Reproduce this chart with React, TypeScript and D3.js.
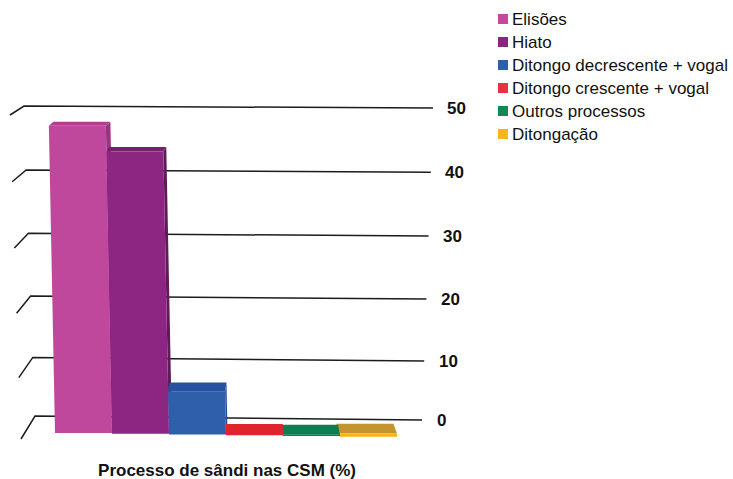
import React, { useEffect, useRef } from "react";
import * as d3 from "d3";

// data (percent)
const categories = [
  "Elisões",
  "Hiato",
  "Ditongo decrescente + vogal",
  "Ditongo crescente + vogal",
  "Outros processos",
  "Ditongação",
];
const values = [48.0, 44.1, 6.7, 0.2, 0.2, 0.5];
const frontColors = ["#c0489c", "#8c2682", "#2f5eab", "#e0242e", "#0f7d52", "#f5b418"];
const topColors = ["#b23d91", "#752169", "#2651a0", "#e0242e", "#0f7d52", "#c4952e"];
const sideColors = ["#983482", "#5f1b58", "#224a92", "#b81d26", "#0b6242", "#a47a20"];
const legendColors = ["#c2499e", "#8b2583", "#2e5fac", "#e8333f", "#0e8a58", "#f8b51c"];
const tickValues = [0, 10, 20, 30, 40, 50];
const chartTitle = "Processo de sândi nas CSM (%)";

const W = 733;
const H = 479;
const FONT = "'Liberation Sans', Arial, sans-serif";

export default function App() {
  const ref = useRef<HTMLDivElement>(null);

  useEffect(() => {
    if (!ref.current) return;
    ref.current.innerHTML = "";

    const svg = d3
      .select(ref.current)
      .append("svg")
      .attr("width", W)
      .attr("height", H)
      .style("position", "absolute")
      .style("left", 0)
      .style("top", 0)
      .style("font-family", FONT);

    svg.append("rect").attr("width", W).attr("height", H).attr("fill", "#fff");

    // back wall (slightly in perspective)
    const yBack = d3.scalePow().exponent(1.035).domain([0, 50]).range([416, 106]);
    const grid = svg.append("g").attr("stroke", "#1c1c1c").attr("fill", "none");

    tickValues.forEach((v) => {
      const cx = 35 - 0.22 * v;
      const cy = yBack(v);
      const rx = 422 + 0.22 * v;
      const ry = cy + 4 - 0.04 * v;
      grid
        .append("path")
        .attr("stroke-width", 1.5)
        .attr("d", `M${cx - 14},${cy + 23 - 0.28 * v}L${cx},${cy}L${rx},${ry}`);
      svg
        .append("text")
        .attr("x", 437 + 0.2 * v)
        .attr("y", ry)
        .attr("dy", "0.36em")
        .attr("font-size", 17)
        .attr("font-weight", "bold")
        .attr("fill", "#111")
        .text(v);
    });

    // bars
    const x = d3.scaleBand().domain(categories).range([55, 397]).paddingInner(0);
    const h = d3.scaleLinear().domain([0, 50]).range([0, 320]);
    const vpX = 245;

    const bars = categories.map((c, i) => {
      const xl = x(c)!;
      const xr = xl + x.bandwidth();
      const xc = (xl + xr) / 2;
      const yb = 433 + (xc - 80) * 0.013;
      const hh = h(values[i]);
      const yt = yb - hh;
      const lean = hh * 0.02;
      const d = (yt + 86) * 0.019;
      const sx = (vpX - xc) * 0.028;
      return { i, xl, xr, xc, yb, yt, lean, d, sx };
    });

    const order = [...bars].sort((a, b) => Math.abs(b.xc - vpX) - Math.abs(a.xc - vpX));
    const g = svg.append("g");

    order.forEach((b) => {
      const xlT = b.xl - b.lean;
      const xrT = b.xr - b.lean;
      const poly = (pts: [number, number][]) => "M" + pts.map((p) => p.join(",")).join("L") + "Z";

      // side face
      if (b.sx > 0) {
        g.append("path")
          .attr("fill", sideColors[b.i])
          .attr("d", poly([[xrT, b.yt], [xrT + b.sx, b.yt - b.d], [b.xr + b.sx, b.yb - b.d], [b.xr, b.yb]]));
      } else {
        g.append("path")
          .attr("fill", sideColors[b.i])
          .attr("d", poly([[xlT, b.yt], [xlT + b.sx, b.yt - b.d], [b.xl + b.sx, b.yb - b.d], [b.xl, b.yb]]));
      }
      // top face
      g.append("path")
        .attr("fill", topColors[b.i])
        .attr("d", poly([[xlT, b.yt], [xrT, b.yt], [xrT + b.sx, b.yt - b.d], [xlT + b.sx, b.yt - b.d]]));
      // front face
      g.append("path")
        .attr("fill", frontColors[b.i])
        .attr("d", poly([[b.xl, b.yb], [b.xr, b.yb], [xrT, b.yt], [xlT, b.yt]]));
    });

    // legend
    const legend = svg.append("g").attr("transform", "translate(498,25)");
    categories.forEach((c, i) => {
      const row = legend.append("g").attr("transform", `translate(0,${i * 23})`);
      row.append("rect").attr("x", 0).attr("y", -11).attr("width", 10).attr("height", 10).attr("fill", legendColors[i]);
      row.append("text").attr("x", 14).attr("y", 0).attr("font-size", 17).attr("fill", "#111").text(c);
    });

    // title
    svg
      .append("text")
      .attr("x", 227)
      .attr("y", 476)
      .attr("text-anchor", "middle")
      .attr("font-size", 17)
      .attr("font-weight", "bold")
      .attr("fill", "#111")
      .text(chartTitle);
  }, []);

  return <div ref={ref} />;
}
